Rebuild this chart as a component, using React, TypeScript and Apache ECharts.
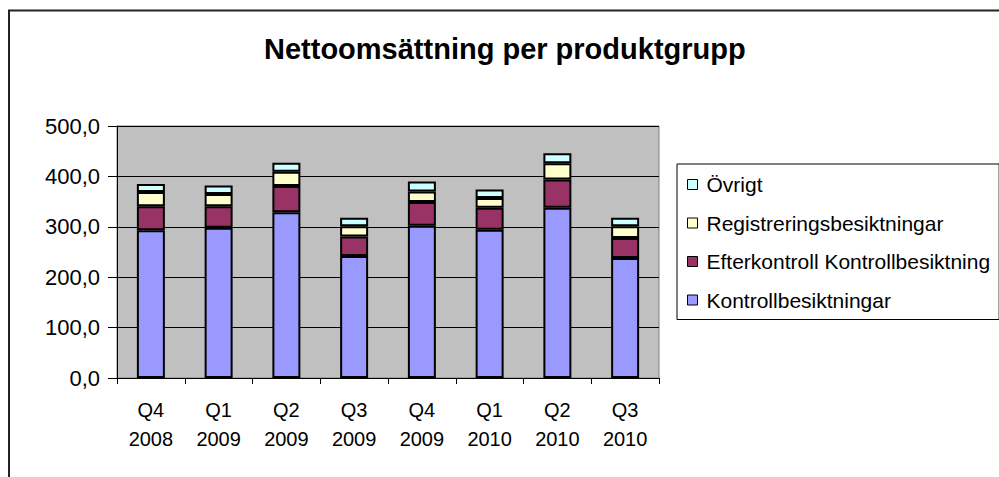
import React, { useEffect, useRef } from "react";
import * as echarts from "echarts";

const categories = ["Q4\n2008", "Q1\n2009", "Q2\n2009", "Q3\n2009", "Q4\n2009", "Q1\n2010", "Q2\n2010", "Q3\n2010"];
const kontroll = [293, 298, 329, 242, 302, 294, 338, 238];
const efterkontroll = [48, 43, 52, 39, 47, 44, 56, 40];
const registrering = [28, 24, 28, 20, 21, 19, 32, 23];
const ovrigt = [16, 17, 18, 17, 20, 17, 20, 17];

const seriesNames = ["Kontrollbesiktningar", "Efterkontroll Kontrollbesiktning", "Registreringsbesiktningar", "Övrigt"];
const seriesColors = ["#9999FF", "#993366", "#FFFFCC", "#CCFFFF"];
const seriesData = [kontroll, efterkontroll, registrering, ovrigt];

const FONT = "'Liberation Sans', Arial, sans-serif";

export default function App() {
  const ref = useRef<HTMLDivElement>(null);
  useEffect(() => {
    if (!ref.current) return;
    const chart = echarts.init(ref.current, undefined, { renderer: "svg" });
    chart.setOption({
      animation: false,
      backgroundColor: "#ffffff",
      textStyle: { fontFamily: FONT },
      graphic: [
        {
          type: "rect",
          shape: { x: 9, y: 10.5, width: 1200, height: 700 },
          style: { fill: "none", stroke: "#222", lineWidth: 2 },
          silent: true,
          z: 0,
        },
      ],
      title: {
        text: "Nettoomsättning per produktgrupp",
        left: 264,
        top: 34,
        padding: 0,
        textStyle: { fontFamily: FONT, fontSize: 29, fontWeight: "bold", color: "#000", lineHeight: 29 },
      },
      legend: {
        orient: "vertical",
        left: 677,
        top: 164,
        padding: [10, 9, 9, 10],
        itemGap: 17.5,
        itemWidth: 10,
        itemHeight: 10,
        icon: "rect",
        backgroundColor: "#fff",
        borderColor: "#000",
        borderWidth: 1,
        data: ["Övrigt", "Registreringsbesiktningar", "Efterkontroll Kontrollbesiktning", "Kontrollbesiktningar"],
        itemStyle: { borderColor: "#000", borderWidth: 1 },
        textStyle: { fontFamily: FONT, fontSize: 21, color: "#000", lineHeight: 20, padding: [0, 0, 0, 4] },
      },
      grid: {
        left: 117,
        top: 126,
        right: 340,
        bottom: 99,
        show: true,
        backgroundColor: "#C0C0C0",
        borderColor: "#808080",
        borderWidth: 1,
      },
      xAxis: {
        type: "category",
        data: categories,
        boundaryGap: true,
        axisLine: { lineStyle: { color: "#000", width: 1 } },
        axisTick: { show: true, length: 6, alignWithLabel: false, lineStyle: { color: "#000" } },
        axisLabel: { fontFamily: FONT, fontSize: 20, color: "#000", lineHeight: 29, margin: 17, interval: 0 },
        splitLine: { show: false },
      },
      yAxis: {
        type: "value",
        min: 0,
        max: 500,
        interval: 100,
        axisLine: { show: true, lineStyle: { color: "#000", width: 1 } },
        axisTick: { show: true, length: 9, lineStyle: { color: "#000" } },
        axisLabel: {
          fontFamily: FONT,
          fontSize: 22,
          color: "#000",
          margin: 17,
          formatter: (v: number) => v.toFixed(1).replace(".", ","),
        },
        splitLine: { show: true, lineStyle: { color: "#000", width: 1 } },
      },
      series: seriesNames.map((name, i) => ({
        name,
        type: "bar",
        stack: "total",
        data: seriesData[i],
        barWidth: 28,
        itemStyle: { color: seriesColors[i], borderColor: "#000", borderWidth: 2 },
      })),
    });
    return () => chart.dispose();
  }, []);
  return (
    <div
      ref={ref}
      style={{ position: "fixed", left: 0, top: 0, width: 999, height: 477, background: "#fff" }}
    />
  );
}
